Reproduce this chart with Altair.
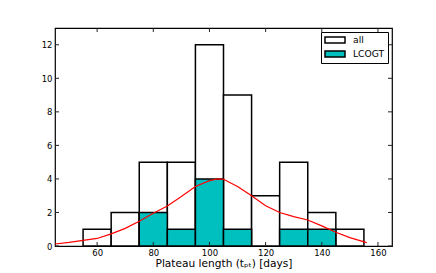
import altair as alt
import pandas as pd

# Histogram bins (10-day wide)
bin_left = [55, 65, 75, 85, 95, 105, 115, 125, 135, 145]
bin_right = [65, 75, 85, 95, 105, 115, 125, 135, 145, 155]
all_counts = [1, 2, 5, 5, 12, 9, 3, 5, 2, 1]
lcogt_counts = [0, 0, 2, 1, 4, 1, 0, 1, 1, 0]

# Smoothed (KDE-like) curve
curve_x = [45, 50, 55, 60, 65, 70, 75, 80, 85, 90, 95, 100, 103, 105, 110,
           115, 120, 125, 130, 135, 140, 145, 150, 156]
curve_y = [0.12, 0.22, 0.34, 0.45, 0.72, 1.05, 1.48, 1.95, 2.38, 2.95, 3.55,
           3.9, 4.0, 3.98, 3.55, 3.0, 2.4, 2.0, 1.75, 1.55, 1.2, 0.82, 0.5, 0.2]

x_ticks = [60, 80, 100, 120, 140, 160]
y_ticks = [0, 2, 4, 6, 8, 10, 12]

W, H = 337, 218
FONT = "DejaVu Sans"

bars = pd.DataFrame({"lo": bin_left, "hi": bin_right, "n": all_counts, "series": "all"})
lc = pd.DataFrame({"lo": bin_left, "hi": bin_right, "n": lcogt_counts, "series": "LCOGT"})
lc = lc[lc["n"] > 0]
curve = pd.DataFrame({"x": curve_x, "y": curve_y})
xt = pd.DataFrame({"t": x_ticks})
yt = pd.DataFrame({"t": y_ticks})

xscale = alt.Scale(domain=[45, 165], nice=False, zero=False, padding=0)
yscale = alt.Scale(domain=[0, 13], nice=False, padding=0)

fill = alt.Fill(
    "series:N",
    scale=alt.Scale(domain=["all", "LCOGT"], range=["white", "#00BFBF"]),
    legend=alt.Legend(
        title=None, orient="top-right", offset=4,
        symbolType="M-1,-0.3H1V0.3H-1Z", symbolSize=400,
        symbolStrokeColor="black", symbolStrokeWidth=1.5,
        labelFont=FONT, labelFontSize=9.2, labelColor="black",
        strokeColor="black", padding=3, fillColor="white",
        rowPadding=3, labelOffset=7, clipHeight=10,
    ),
)

xaxis = alt.Axis(values=x_ticks, title="Plateau length (tₚₜ) [days]",
                 ticks=False, domain=False, grid=False, labelPadding=2,
                 labelFont=FONT, labelFontSize=8.5, labelColor="black",
                 labelOverlap=False,
                 titleFont=FONT, titleFontSize=10.6, titleFontWeight="normal",
                 titleColor="black", titleBaseline="alphabetic", titleY=20)
yaxis = alt.Axis(values=y_ticks, tickCount=7, title=None, ticks=False, domain=False,
                 grid=False, labelPadding=3, labelFont=FONT, labelFontSize=8.5,
                 labelColor="black", labelOverlap=False, labelBound=False,
                 minExtent=47, maxExtent=47)

all_layer = alt.Chart(bars).mark_bar(stroke="black", strokeWidth=1.5, clip=True).encode(
    x=alt.X("lo:Q", scale=xscale, axis=xaxis),
    x2="hi:Q",
    y=alt.Y("n:Q", scale=yscale, axis=yaxis),
    y2=alt.datum(0),
    fill=fill,
)
lc_layer = alt.Chart(lc).mark_bar(stroke="black", strokeWidth=1.5, clip=True).encode(
    x=alt.X("lo:Q", axis=xaxis), x2="hi:Q", y=alt.Y("n:Q", axis=yaxis),
    y2=alt.datum(0), fill=fill,
)
line = alt.Chart(curve).mark_line(color="red", strokeWidth=1.2).encode(
    x=alt.X("x:Q", axis=xaxis), y=alt.Y("y:Q", axis=yaxis),
)

tick_style = dict(color="#222222", strokeWidth=1)
top_t = alt.Chart(xt).mark_rule(**tick_style).encode(
    x=alt.X("t:Q", axis=xaxis), y=alt.value(0), y2=alt.value(4))
bot_t = alt.Chart(xt).mark_rule(**tick_style).encode(
    x=alt.X("t:Q", axis=xaxis), y=alt.value(H), y2=alt.value(H - 4))
left_t = alt.Chart(yt).mark_rule(**tick_style).encode(
    y=alt.Y("t:Q", axis=yaxis), x=alt.value(0), x2=alt.value(4))
right_t = alt.Chart(yt).mark_rule(**tick_style).encode(
    y=alt.Y("t:Q", axis=yaxis), x=alt.value(W), x2=alt.value(W - 4))

chart = alt.layer(all_layer, lc_layer, line, top_t, bot_t, left_t, right_t).properties(
    width=W, height=H,
    padding={"left": 0, "top": 19, "right": 10, "bottom": 2},
    background="white",
).configure_view(stroke="black", strokeWidth=1.2)

chart.save("out.html", embed_options={"renderer": "svg", "actions": False})
